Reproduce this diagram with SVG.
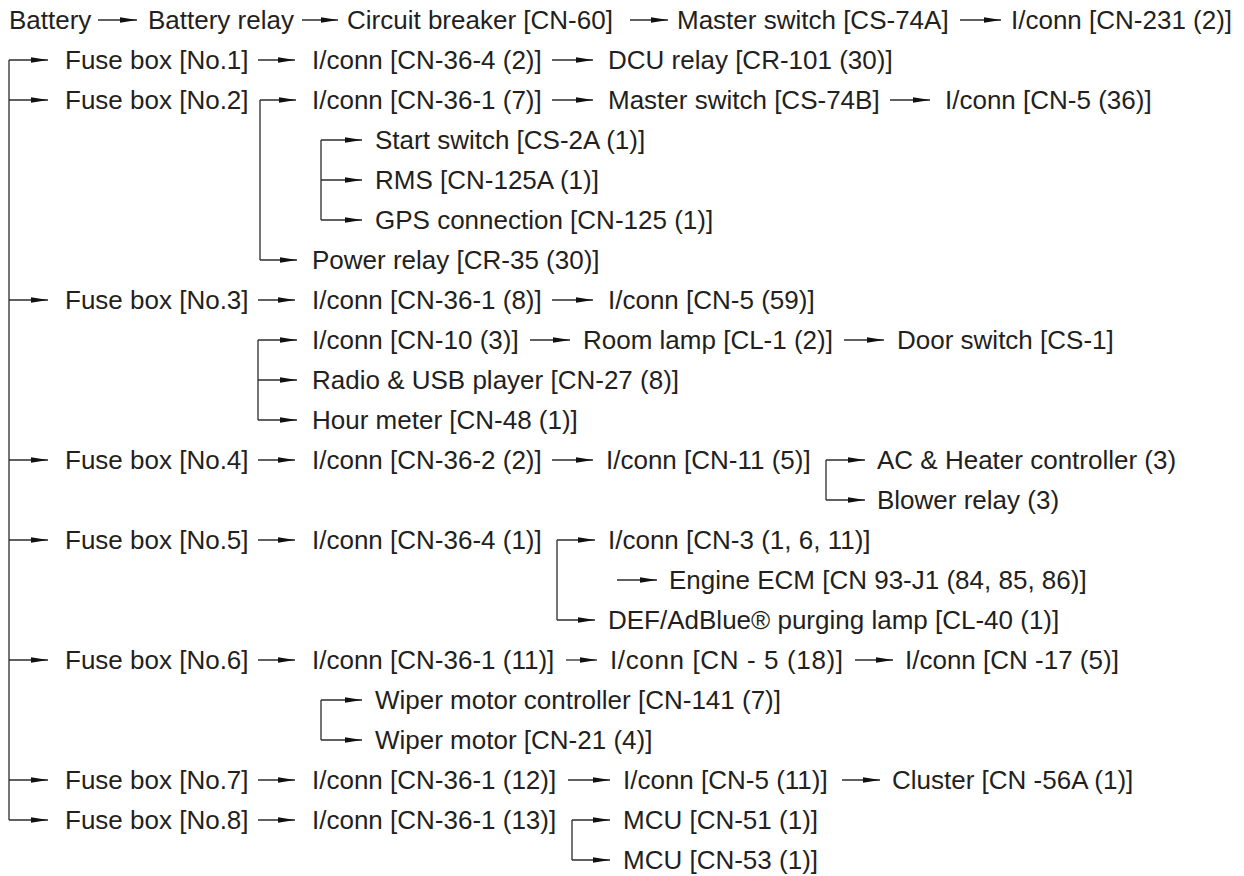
<svg xmlns="http://www.w3.org/2000/svg" width="1244" height="876" viewBox="0 0 1244 876">
<defs>
<style>
text{font-family:"Liberation Sans",Arial,Helvetica,sans-serif;font-size:26px;fill:#231f20}
.c{fill:none;stroke:#2b2b2b;stroke-width:1.3}
.a{marker-end:url(#ah)}
</style>
<marker id="ah" viewBox="0 0 17 7" refX="17" refY="3.5" markerWidth="17" markerHeight="7" markerUnits="userSpaceOnUse" orient="auto">
<path d="M0,0.7 L17,3.5 L0,6.3 Z" fill="#111111"/>
</marker>
</defs>
<rect width="1244" height="876" fill="#ffffff"/>
<g id="connectors">
<line class="c a" x1="98" y1="20" x2="137" y2="20"/>
<line class="c a" x1="302" y1="20" x2="338" y2="20"/>
<line class="c a" x1="630" y1="20" x2="668" y2="20"/>
<line class="c a" x1="960" y1="20" x2="1001" y2="20"/>
<line class="c" x1="9" y1="60" x2="9" y2="820"/>
<line class="c a" x1="9" y1="60" x2="48" y2="60"/>
<line class="c a" x1="9" y1="100" x2="48" y2="100"/>
<line class="c a" x1="9" y1="300" x2="48" y2="300"/>
<line class="c a" x1="9" y1="460" x2="48" y2="460"/>
<line class="c a" x1="9" y1="540" x2="48" y2="540"/>
<line class="c a" x1="9" y1="660" x2="48" y2="660"/>
<line class="c a" x1="9" y1="780" x2="48" y2="780"/>
<line class="c a" x1="9" y1="820" x2="48" y2="820"/>
<line class="c a" x1="258" y1="60" x2="295" y2="60"/>
<line class="c a" x1="552" y1="60" x2="593" y2="60"/>
<line class="c" x1="260" y1="100" x2="260" y2="260"/>
<line class="c a" x1="260" y1="100" x2="296" y2="100"/>
<line class="c a" x1="552" y1="100" x2="593" y2="100"/>
<line class="c a" x1="890" y1="100" x2="930" y2="100"/>
<line class="c" x1="321" y1="140" x2="321" y2="220"/>
<line class="c a" x1="321" y1="140" x2="362" y2="140"/>
<line class="c a" x1="321" y1="180" x2="362" y2="180"/>
<line class="c a" x1="321" y1="220" x2="362" y2="220"/>
<line class="c a" x1="260" y1="260" x2="297" y2="260"/>
<line class="c a" x1="258" y1="300" x2="295" y2="300"/>
<line class="c a" x1="552" y1="300" x2="593" y2="300"/>
<line class="c" x1="258" y1="340" x2="258" y2="420"/>
<line class="c a" x1="258" y1="340" x2="297" y2="340"/>
<line class="c a" x1="258" y1="380" x2="297" y2="380"/>
<line class="c a" x1="258" y1="420" x2="297" y2="420"/>
<line class="c a" x1="530" y1="340" x2="570" y2="340"/>
<line class="c a" x1="844" y1="340" x2="884" y2="340"/>
<line class="c a" x1="258" y1="460" x2="295" y2="460"/>
<line class="c a" x1="552" y1="460" x2="593" y2="460"/>
<line class="c" x1="826" y1="460" x2="826" y2="500"/>
<line class="c a" x1="826" y1="460" x2="865" y2="460"/>
<line class="c a" x1="826" y1="500" x2="865" y2="500"/>
<line class="c a" x1="258" y1="540" x2="295" y2="540"/>
<line class="c" x1="557" y1="540" x2="557" y2="620"/>
<line class="c a" x1="557" y1="540" x2="595" y2="540"/>
<line class="c a" x1="617" y1="580" x2="657" y2="580"/>
<line class="c a" x1="557" y1="620" x2="595" y2="620"/>
<line class="c a" x1="258" y1="660" x2="295" y2="660"/>
<line class="c a" x1="566" y1="660" x2="597" y2="660"/>
<line class="c a" x1="855" y1="660" x2="893" y2="660"/>
<line class="c" x1="321" y1="700" x2="321" y2="740"/>
<line class="c a" x1="321" y1="700" x2="362" y2="700"/>
<line class="c a" x1="321" y1="740" x2="362" y2="740"/>
<line class="c a" x1="258" y1="780" x2="295" y2="780"/>
<line class="c a" x1="568" y1="780" x2="610" y2="780"/>
<line class="c a" x1="842" y1="780" x2="880" y2="780"/>
<line class="c a" x1="258" y1="820" x2="295" y2="820"/>
<line class="c" x1="572" y1="820" x2="572" y2="860"/>
<line class="c a" x1="572" y1="820" x2="610" y2="820"/>
<line class="c a" x1="572" y1="860" x2="610" y2="860"/>
</g>
<g id="n-battery"><text x="9" y="29">Battery</text></g>
<g id="n-battery-relay"><text x="148" y="29">Battery relay</text></g>
<g id="n-circuit-breaker"><text x="347" y="29">Circuit breaker [CN-60]</text></g>
<g id="n-master-74a"><text x="677" y="29">Master switch [CS-74A]</text></g>
<g id="n-cn231"><text x="1011" y="29">I/conn [CN-231 (2)]</text></g>

<g id="n-fuse1"><text x="65" y="69">Fuse box [No.1]</text></g>
<g id="n-cn36-4-2"><text x="312" y="69">I/conn [CN-36-4 (2)]</text></g>
<g id="n-dcu"><text x="608" y="69">DCU relay [CR-101 (30)]</text></g>

<g id="n-fuse2"><text x="65" y="109">Fuse box [No.2]</text></g>
<g id="n-cn36-1-7"><text x="312" y="109">I/conn [CN-36-1 (7)]</text></g>
<g id="n-master-74b"><text x="608" y="109">Master switch [CS-74B]</text></g>
<g id="n-cn5-36"><text x="945" y="109">I/conn [CN-5 (36)]</text></g>
<g id="n-start"><text x="375" y="149">Start switch [CS-2A (1)]</text></g>
<g id="n-rms"><text x="375" y="189">RMS [CN-125A (1)]</text></g>
<g id="n-gps"><text x="375" y="229">GPS connection [CN-125 (1)]</text></g>
<g id="n-power-relay"><text x="312" y="269">Power relay [CR-35 (30)]</text></g>

<g id="n-fuse3"><text x="65" y="309">Fuse box [No.3]</text></g>
<g id="n-cn36-1-8"><text x="312" y="309">I/conn [CN-36-1 (8)]</text></g>
<g id="n-cn5-59"><text x="608" y="309">I/conn [CN-5 (59)]</text></g>
<g id="n-cn10"><text x="312" y="349">I/conn [CN-10 (3)]</text></g>
<g id="n-room-lamp"><text x="583" y="349">Room lamp [CL-1 (2)]</text></g>
<g id="n-door"><text x="897" y="349">Door switch [CS-1]</text></g>
<g id="n-radio"><text x="312" y="389">Radio &amp; USB player [CN-27 (8)]</text></g>
<g id="n-hour"><text x="312" y="429">Hour meter [CN-48 (1)]</text></g>

<g id="n-fuse4"><text x="65" y="469">Fuse box [No.4]</text></g>
<g id="n-cn36-2-2"><text x="312" y="469">I/conn [CN-36-2 (2)]</text></g>
<g id="n-cn11"><text x="606" y="469">I/conn [CN-11 (5)]</text></g>
<g id="n-ac"><text x="877" y="469">AC &amp; Heater controller (3)</text></g>
<g id="n-blower"><text x="877" y="509">Blower relay (3)</text></g>

<g id="n-fuse5"><text x="65" y="549">Fuse box [No.5]</text></g>
<g id="n-cn36-4-1"><text x="312" y="549">I/conn [CN-36-4 (1)]</text></g>
<g id="n-cn3"><text x="608" y="549">I/conn [CN-3 (1, 6, 11)]</text></g>
<g id="n-ecm"><text x="669" y="589">Engine ECM [CN 93-J1 (84, 85, 86)]</text></g>
<g id="n-def"><text x="608" y="629">DEF/AdBlue® purging lamp [CL-40 (1)]</text></g>

<g id="n-fuse6"><text x="65" y="669">Fuse box [No.6]</text></g>
<g id="n-cn36-1-11"><text x="312" y="669">I/conn [CN-36-1 (11)]</text></g>
<g id="n-cn5-18"><text x="610" y="669" textLength="233" lengthAdjust="spacing">I/conn [CN - 5 (18)]</text></g>
<g id="n-cn17"><text x="905" y="669">I/conn [CN -17 (5)]</text></g>
<g id="n-wiper-ctrl"><text x="375" y="709">Wiper motor controller [CN-141 (7)]</text></g>
<g id="n-wiper-motor"><text x="375" y="749">Wiper motor [CN-21 (4)]</text></g>

<g id="n-fuse7"><text x="65" y="789">Fuse box [No.7]</text></g>
<g id="n-cn36-1-12"><text x="312" y="789">I/conn [CN-36-1 (12)]</text></g>
<g id="n-cn5-11"><text x="623" y="789">I/conn [CN-5 (11)]</text></g>
<g id="n-cluster"><text x="892" y="789">Cluster [CN -56A (1)]</text></g>

<g id="n-fuse8"><text x="65" y="829">Fuse box [No.8]</text></g>
<g id="n-cn36-1-13"><text x="312" y="829">I/conn [CN-36-1 (13)]</text></g>
<g id="n-mcu51"><text x="623" y="829">MCU [CN-51 (1)]</text></g>
<g id="n-mcu53"><text x="623" y="869">MCU [CN-53 (1)]</text></g>
</svg>
